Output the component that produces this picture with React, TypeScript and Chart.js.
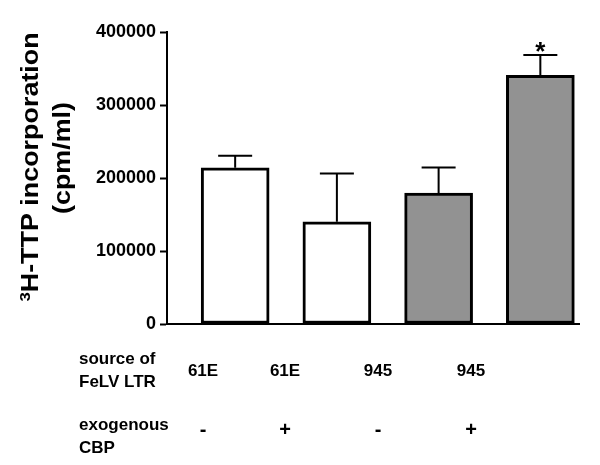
import React, { useEffect, useRef } from "react";
import { Chart, registerables } from "chart.js";

Chart.register(...registerables);

const means = [214000, 140000, 179500, 340500];
const errors = [16500, 66000, 35000, 28000];
const barColors = ["#ffffff", "#ffffff", "#929292", "#929292"];
const yTicks = [0, 100000, 200000, 300000, 400000];
const sourceLabels = ["61E", "61E", "945", "945"];
const cbpLabels = ["-", "+", "-", "+"];
const rowLabels = [["source of", "FeLV LTR"], ["exogenous", "CBP"]];
const significant = [false, false, false, true];
const yTitle1 = "H-TTP incorporation";
const yTitleSup = "3";
const yTitle2 = "(cpm/ml)";

const FONT = '"Liberation Sans", Arial, sans-serif';

const extrasPlugin = {
  id: "extras",
  afterDatasetsDraw(chart: any) {
    const ctx = chart.ctx;
    const meta = chart.getDatasetMeta(0);
    const y = chart.scales.y;
    ctx.save();
    ctx.strokeStyle = "#000";
    ctx.lineWidth = 2;
    meta.data.forEach((bar: any, i: number) => {
      const top = y.getPixelForValue(means[i] + errors[i]);
      const cx = bar.x;
      ctx.beginPath();
      ctx.moveTo(cx, bar.y);
      ctx.lineTo(cx, top);
      ctx.moveTo(cx - 17, top);
      ctx.lineTo(cx + 17, top);
      ctx.stroke();
      if (significant[i]) {
        ctx.fillStyle = "#000";
        ctx.font = `bold 26px ${FONT}`;
        ctx.textAlign = "center";
        ctx.textBaseline = "alphabetic";
        ctx.fillText("*", cx, top + 5);
      }
    });
    ctx.restore();
  },
  afterDraw(chart: any) {
    const ctx = chart.ctx;
    ctx.save();
    ctx.fillStyle = "#000";
    ctx.font = `bold 24px ${FONT}`;
    ctx.textBaseline = "middle";
    ctx.save();
    ctx.translate(31, 167);
    ctx.rotate(-Math.PI / 2);
    ctx.scale(1.12, 1);
    const supFont = `bold 15px ${FONT}`;
    ctx.font = supFont;
    const supW = ctx.measureText(yTitleSup).width;
    ctx.font = `bold 24px ${FONT}`;
    const mainW = ctx.measureText(yTitle1).width;
    const total = supW + mainW;
    ctx.textAlign = "left";
    ctx.font = supFont;
    ctx.fillText(yTitleSup, -total / 2, -5);
    ctx.font = `bold 24px ${FONT}`;
    ctx.fillText(yTitle1, -total / 2 + supW, 0);
    ctx.restore();
    ctx.save();
    ctx.translate(63, 158);
    ctx.rotate(-Math.PI / 2);
    ctx.scale(1.12, 1);
    ctx.textAlign = "center";
    ctx.fillText(yTitle2, 0, 0);
    ctx.restore();

    const colX = [203, 285, 378, 471];
    ctx.font = `bold 17px ${FONT}`;
    ctx.textAlign = "left";
    ctx.textBaseline = "middle";
    rowLabels[0].forEach((t, k) => ctx.fillText(t, 79, 359 + k * 23));
    rowLabels[1].forEach((t, k) => ctx.fillText(t, 79, 425 + k * 23));
    ctx.textAlign = "center";
    sourceLabels.forEach((t, i) => ctx.fillText(t, colX[i], 371));
    ctx.font = `bold 20px ${FONT}`;
    cbpLabels.forEach((t, i) => ctx.fillText(t, colX[i], 430));
    ctx.restore();
  },
};

export default function App() {
  const ref = useRef<HTMLCanvasElement>(null);
  useEffect(() => {
    const chart = new Chart(ref.current!, {
      type: "bar",
      data: {
        datasets: [
          {
            data: means.map((v, i) => ({ x: i, y: v })),
            backgroundColor: barColors,
            borderColor: "#000",
            borderWidth: 3,
            borderSkipped: false,
            barThickness: 68,
          },
        ],
      },
      options: {
        responsive: false,
        animation: false,
        layout: { padding: { top: 32, right: 21, bottom: 141, left: 0 } },
        plugins: { legend: { display: false }, tooltip: { enabled: false } },
        scales: {
          x: {
            type: "linear",
            min: -0.67,
            max: 3.38,
            offset: false,
            ticks: { display: false },
            grid: { display: false, drawTicks: false, offset: false },
            border: { display: true, color: "#000", width: 2 },
            afterFit: (s: any) => {
              s.height = 0;
            },
          },
          y: {
            min: 0,
            max: 400000,
            afterBuildTicks: (s: any) => {
              s.ticks = yTicks.map((v) => ({ value: v }));
            },
            ticks: {
              color: "#000",
              font: { family: FONT, size: 18, weight: "bold" },
              padding: 4,
              callback: (v: any) => String(v),
            },
            grid: {
              display: true,
              drawOnChartArea: false,
              drawTicks: true,
              tickLength: 7,
              tickWidth: 2,
              color: "#000",
            },
            border: { display: true, color: "#000", width: 2 },
            afterFit: (s: any) => {
              s.width = 167;
            },
          },
        },
      },
      plugins: [extrasPlugin],
    });
    return () => chart.destroy();
  }, []);
  return (
    <div style={{ position: "absolute", left: 0, top: 0, width: 600, height: 465, background: "#fff" }}>
      <canvas ref={ref} width={600} height={465} />
    </div>
  );
}
